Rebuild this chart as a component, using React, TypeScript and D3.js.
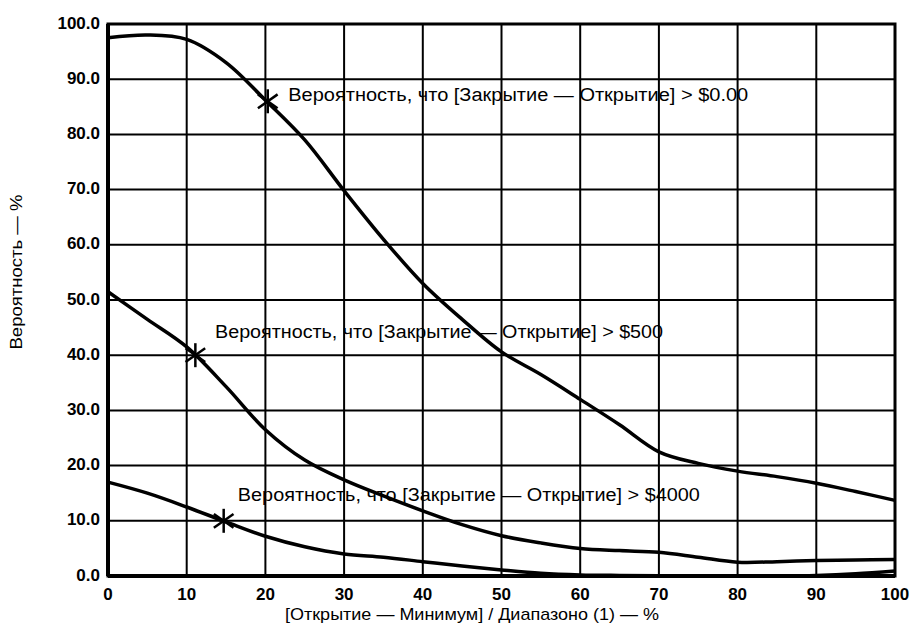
import * as d3 from 'd3';
import React, { useEffect, useRef } from 'react';

// x values shared by all three curves ([Открытие — Минимум] / Диапазон, %)
const xValues = [0, 5, 10, 15, 20, 25, 30, 35, 40, 45, 50, 55, 60, 65, 70, 75, 80, 85, 90, 95, 100];

// probability that [Close - Open] > $0.00
const probAbove0 = [97.5, 98.0, 97.2, 93.0, 86.2, 79.0, 69.8, 61.0, 53.0, 46.5, 40.6, 36.5, 32.0, 27.4, 22.5, 20.4, 19.0, 18.0, 16.8, 15.3, 13.7];
// probability that [Close - Open] > $500
const probAbove500 = [51.5, 46.5, 41.5, 34.3, 26.5, 21.0, 17.4, 14.5, 11.8, 9.3, 7.3, 6.0, 5.0, 4.6, 4.3, 3.4, 2.5, 2.6, 2.8, 2.9, 3.0];
// probability that [Close - Open] > $4000
const probAbove4000 = [17.0, 15.0, 12.5, 9.8, 7.2, 5.3, 4.0, 3.4, 2.6, 1.8, 1.1, 0.5, 0.2, 0.1, 0.05, 0, 0, 0, 0.1, 0.4, 0.9];

const labels = [
  'Вероятность, что [Закрытие — Открытие] > $0.00',
  'Вероятность, что [Закрытие — Открытие] > $500',
  'Вероятность, что [Закрытие — Открытие] > $4000',
];
// marker points on each curve (x, y in data units)
const markerX = [20.3, 11.1, 14.7];
const markerY = [86, 40, 10];
// label anchor (left edge, vertical middle) in data units
const labelX = [22.9, 13.6, 16.5];
const labelY = [87.2, 44.2, 14.6];

const xTicks = [0, 10, 20, 30, 40, 50, 60, 70, 80, 90, 100];
const yTicks = [0, 10, 20, 30, 40, 50, 60, 70, 80, 90, 100];

const xTitle = '[Открытие — Минимум] / Диапазоно (1) — %';
const yTitle = 'Вероятность — %';

const width = 912;
const height = 628;
const margin = { top: 24, right: 17, bottom: 52, left: 108 };
const font = '"Liberation Sans", Arial, sans-serif';

const App = () => {
  const ref = useRef<SVGSVGElement | null>(null);

  useEffect(() => {
    const svg = d3.select(ref.current);
    svg.selectAll('*').remove();

    const x = d3.scaleLinear().domain([0, 100]).range([margin.left, width - margin.right]);
    const y = d3.scaleLinear().domain([0, 100]).range([height - margin.bottom, margin.top]);

    const g = svg.append('g');

    // grid
    g.selectAll('.vgrid')
      .data(xTicks)
      .enter().append('line')
      .attr('x1', (d) => x(d)).attr('x2', (d) => x(d))
      .attr('y1', y(0)).attr('y2', y(100))
      .attr('stroke', '#000').attr('stroke-width', 2);
    g.selectAll('.hgrid')
      .data(yTicks)
      .enter().append('line')
      .attr('x1', x(0)).attr('x2', x(100))
      .attr('y1', (d) => y(d)).attr('y2', (d) => y(d))
      .attr('stroke', '#000').attr('stroke-width', 2);

    // frame
    g.append('rect')
      .attr('x', x(0)).attr('y', y(100))
      .attr('width', x(100) - x(0)).attr('height', y(0) - y(100))
      .attr('fill', 'none').attr('stroke', '#000').attr('stroke-width', 3);
    g.append('line')
      .attr('x1', x(0)).attr('x2', x(0)).attr('y1', y(0)).attr('y2', y(100))
      .attr('stroke', '#000').attr('stroke-width', 4);
    g.append('line')
      .attr('x1', x(0)).attr('x2', x(100)).attr('y1', y(0)).attr('y2', y(0))
      .attr('stroke', '#000').attr('stroke-width', 4);

    // tick labels
    g.selectAll('.ylab')
      .data(yTicks)
      .enter().append('text')
      .attr('x', x(0) - 8)
      .attr('y', (d) => y(d) - 1)
      .attr('text-anchor', 'end')
      .attr('dominant-baseline', 'central')
      .style('font', `bold 17px ${font}`)
      .text((d) => d3.format('.1f')(d));
    g.selectAll('.xlab')
      .data(xTicks)
      .enter().append('text')
      .attr('x', (d) => x(d))
      .attr('y', y(0) + 24)
      .attr('text-anchor', 'middle')
      .style('font', `bold 17px ${font}`)
      .text((d) => String(d));

    // axis titles
    g.append('text')
      .attr('x', 472).attr('y', height - 8)
      .attr('text-anchor', 'middle')
      .attr('textLength', 374)
      .attr('lengthAdjust', 'spacingAndGlyphs')
      .style('font', `17px ${font}`)
      .text(xTitle);
    g.append('text')
      .attr('transform', `translate(22,272) rotate(-90)`)
      .attr('text-anchor', 'middle')
      .attr('textLength', 155)
      .attr('lengthAdjust', 'spacingAndGlyphs')
      .style('font', `17px ${font}`)
      .text(yTitle);

    // curves
    const series = [probAbove0, probAbove500, probAbove4000];
    const line = d3.line<number>()
      .x((_, i) => x(xValues[i]))
      .y((d) => y(d))
      .curve(d3.curveCatmullRom.alpha(0.5));
    g.selectAll('.curve')
      .data(series)
      .enter().append('path')
      .attr('d', (d) => line(d))
      .attr('fill', 'none')
      .attr('stroke', '#000')
      .attr('stroke-width', 3.5);

    // asterisk markers
    const r = 12;
    const angles = [90, 35, 145];
    markerX.forEach((mx, i) => {
      const cx = x(mx);
      const cy = y(markerY[i]);
      angles.forEach((a) => {
        const rad = (a * Math.PI) / 180;
        g.append('line')
          .attr('x1', cx - r * Math.cos(rad)).attr('y1', cy - r * Math.sin(rad))
          .attr('x2', cx + r * Math.cos(rad)).attr('y2', cy + r * Math.sin(rad))
          .attr('stroke', '#000').attr('stroke-width', 2.5);
      });
    });

    // annotations
    g.selectAll('.ann')
      .data(labels)
      .enter().append('text')
      .attr('x', (_, i) => x(labelX[i]))
      .attr('y', (_, i) => y(labelY[i]))
      .attr('dominant-baseline', 'central')
      .attr('textLength', (_, i) => [460, 448, 462][i])
      .attr('lengthAdjust', 'spacingAndGlyphs')
      .style('font', `18px ${font}`)
      .text((d) => d);
  }, []);

  return (
    <svg
      ref={ref}
      width={width}
      height={height}
      style={{ position: 'absolute', left: 0, top: 0, background: '#fff' }}
    />
  );
};

export default App;
